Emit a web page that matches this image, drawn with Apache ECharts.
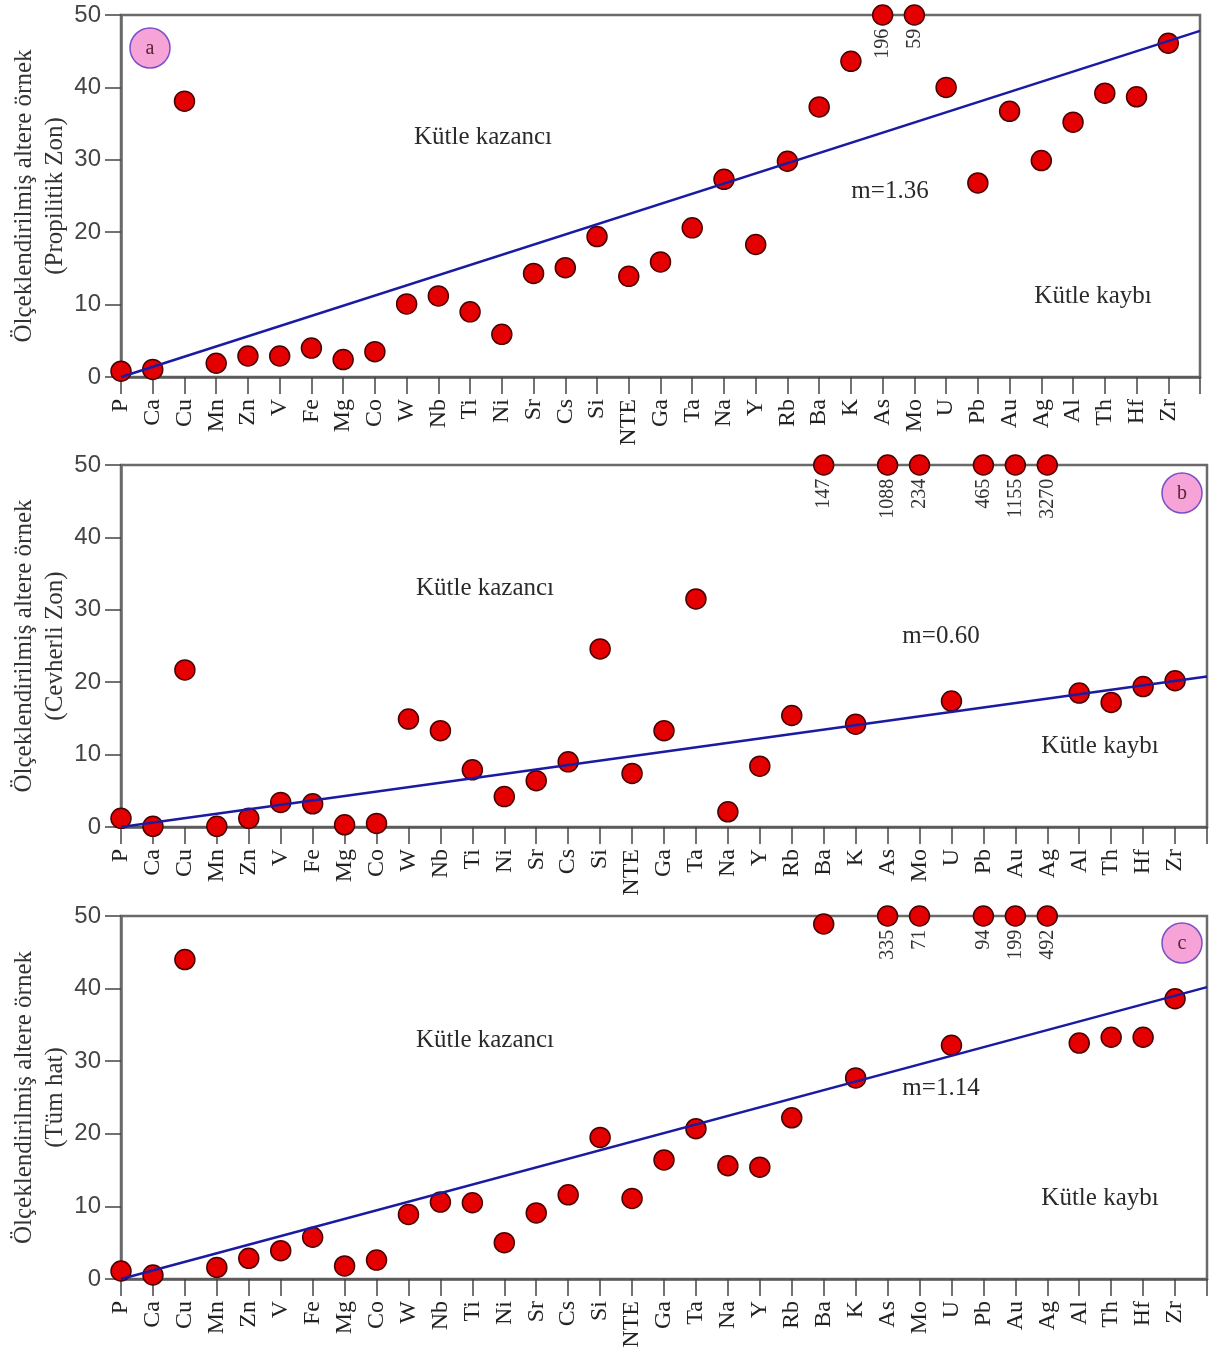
<!DOCTYPE html>
<html>
<head>
<meta charset="utf-8">
<script src="https://cdn.jsdelivr.net/npm/echarts@6/dist/echarts.min.js"></script>
<style>
  html, body { margin: 0; padding: 0; background: #fff; }
  #chart { width: 1211px; height: 1355px; }
</style>
</head>
<body>
<div id="chart"></div>
<script>
// ---- data ----
const elements = ['P','Ca','Cu','Mn','Zn','V','Fe','Mg','Co','W','Nb','Ti','Ni','Sr','Cs','Si','NTE','Ga','Ta','Na','Y','Rb','Ba','K','As','Mo','U','Pb','Au','Ag','Al','Th','Hf','Zr'];
const propilitik = [0.8,1.05,38.1,1.9,2.9,2.9,4.0,2.4,3.5,10.1,11.2,9.0,5.9,14.3,15.1,19.4,13.9,15.9,20.6,27.3,18.3,29.8,37.3,43.6,196,59,40.0,26.8,36.7,29.9,35.2,39.2,38.7,46.1];
const cevherli = [1.2,0.1,21.7,0.1,1.2,3.4,3.2,0.3,0.5,14.9,13.3,7.9,4.2,6.4,9.0,24.6,7.4,13.3,31.5,2.1,8.4,15.4,147,14.2,1088,234,17.4,465,1155,3270,18.5,17.2,19.4,20.2];
const tumHat = [1.1,0.55,44.0,1.6,2.85,3.9,5.75,1.8,2.6,8.9,10.6,10.5,5.0,9.1,11.6,19.5,11.1,16.4,20.7,15.6,15.4,22.2,48.9,27.7,335,71,32.2,94,199,492,32.5,33.3,33.3,38.6];
const trendA = [[0,0],[34,47.8]];
const trendB = [[0,0],[34,20.8]];
const trendC = [[0,0],[34,40.2]];
const slopes = ['m=1.36','m=0.60','m=1.14'];
const zoneNames = ['(Propilitik Zon)','(Cevherli Zon)','(Tüm hat)'];
const panelLetters = ['a','b','c'];
const yTitle = 'Ölçeklendirilmiş altere örnek';
const gainText = 'Kütle kazancı';
const lossText = 'Kütle kaybı';
const yMax = 50;

// ---- chart ----
const SERIF = '"Liberation Serif", "DejaVu Serif", serif';
const SANS = '"Liberation Sans", Arial, sans-serif';
const chart = echarts.init(document.getElementById('chart'), null, {renderer: 'canvas'});

const grids = [
  {left: 121, right: 11, top: 15, height: 362},
  {left: 121, right: 4, top: 465, height: 362},
  {left: 121, right: 4, top: 916, height: 363}
];
const datasets = [propilitik, cevherli, tumHat];
const trends = [trendA, trendB, trendC];

const xAxes = [], yAxes = [], series = [];
grids.forEach((g, i) => {
  Object.assign(g, {show: true, borderColor: '#6a6a6a', borderWidth: 2.5, containLabel: false, outerBoundsMode: 'none'});
  xAxes.push({
    type: 'value', gridIndex: i, min: 0, max: elements.length, interval: 1,
    splitLine: {show: false},
    axisLine: {lineStyle: {color: '#5a5a5a', width: 2.5}},
    axisTick: {length: 17, lineStyle: {color: '#444', width: 1.5}},
    axisLabel: {
      rotate: 90, margin: 22, fontFamily: SERIF, fontSize: 24, color: '#222',
      formatter: v => elements[v] || ''
    }
  });
  yAxes.push({
    type: 'value', gridIndex: i, min: 0, max: yMax, interval: 10,
    splitLine: {show: false},
    axisLine: {show: true, lineStyle: {color: '#6a6a6a', width: 2.5}},
    axisTick: {show: true, length: 16, lineStyle: {color: '#444', width: 1.5}},
    axisLabel: {margin: 20, fontFamily: SANS, fontSize: 24, color: '#444'},
    name: yTitle + '\n' + zoneNames[i],
    nameLocation: 'middle', nameRotate: 90, nameGap: 50, nameMoveOverlap: false,
    nameTextStyle: {fontFamily: SERIF, fontSize: 25, lineHeight: 31, color: '#333'}
  });
  series.push({
    type: 'scatter', xAxisIndex: i, yAxisIndex: i, z: 3, clip: false,
    symbol: 'circle', symbolSize: 20,
    itemStyle: {color: '#e40000', borderColor: '#4a0000', borderWidth: 1.5, opacity: 1},
    data: datasets[i].map((v, k) => ({
      value: [k, Math.min(v, yMax)],
      label: v > yMax ? {
        show: true, formatter: String(v), position: 'bottom', distance: 3,
        rotate: 90, align: 'right', verticalAlign: 'middle',
        fontFamily: SERIF, fontSize: 20, color: '#333'
      } : {show: false}
    }))
  });
  series.push({
    type: 'line', xAxisIndex: i, yAxisIndex: i, z: 4, symbol: 'none',
    lineStyle: {color: '#1a1aa2', width: 2.5},
    data: trends[i]
  });
});

const badgePos = [[150, 48], [1182, 493], [1182, 943]];
const textPos = [
  {gain: [483, 137], m: [890, 191], loss: [1093, 296]},
  {gain: [485, 588], m: [941, 636], loss: [1100, 746]},
  {gain: [485, 1040], m: [941, 1088], loss: [1100, 1198]}
];
const graphic = [];
const txt = (s, p) => ({
  type: 'text', x: p[0], y: p[1], z: 10,
  style: {text: s, align: 'center', verticalAlign: 'middle', font: '25px ' + SERIF, fill: '#2a2a2a'}
});
for (let i = 0; i < 3; i++) {
  graphic.push({
    type: 'circle', shape: {cx: badgePos[i][0], cy: badgePos[i][1], r: 20}, z: 10,
    style: {fill: '#f6a4d8', stroke: '#7b4fc9', lineWidth: 1.5}
  });
  graphic.push({
    type: 'text', x: badgePos[i][0], y: badgePos[i][1] + 1, z: 11,
    style: {text: panelLetters[i], align: 'center', verticalAlign: 'middle', font: '20px ' + SERIF, fill: '#5a2333'}
  });
  graphic.push(txt(gainText, textPos[i].gain));
  graphic.push(txt(slopes[i], textPos[i].m));
  graphic.push(txt(lossText, textPos[i].loss));
}

chart.setOption({
  animation: false,
  backgroundColor: '#fff',
  grid: grids,
  xAxis: xAxes,
  yAxis: yAxes,
  series: series,
  graphic: graphic
});
</script>
</body>
</html>
